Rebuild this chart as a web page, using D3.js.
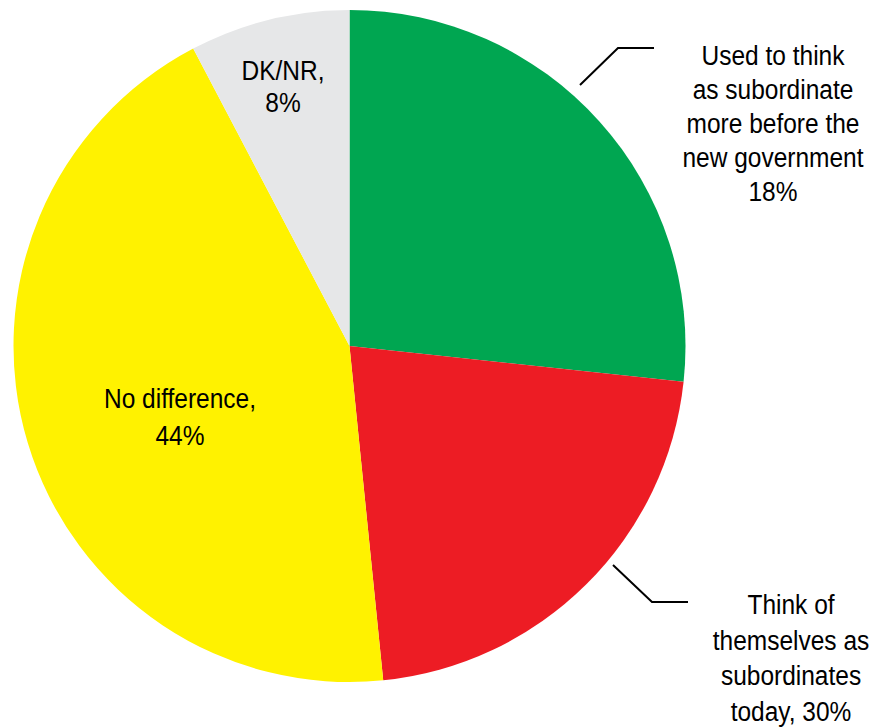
<!DOCTYPE html>
<meta charset="utf-8">
<title>Subordinates pie</title>
<style>
body { margin: 0; background: #fff; }
svg text {
  font-family: "Liberation Sans", Arial, sans-serif;
  font-size: 28px;
  fill: #000;
  text-anchor: middle;
}
</style>
<body>
<script src="https://cdn.jsdelivr.net/npm/d3@7"></script>
<script>
'use strict';

// slices as drawn in the chart (clockwise from 12 o'clock)
const categories = ["Used to think as subordinate more before the new government", "Think of themselves as subordinates today", "No difference", "DK/NR"];
const sliceValues = [26.7, 21.7, 43.9, 7.7];
const colors = ["#00a651", "#ed1c24", "#fff200", "#e6e7e8"];
// label text as printed
const labelLines = [
  ["Used to think", "as subordinate", "more before the", "new government", "18%"],
  ["Think of", "themselves as", "subordinates", "today, 30%"],
  ["No difference,", "44%"],
  ["DK/NR,", "8%"]
];

const width = 875, height = 728,
      cx = 349.5, cy = 346, radius = 336,
      squeeze = 0.875; // the original uses a condensed face

const svg = d3.select("body").append("svg")
    .attr("width", width)
    .attr("height", height);

const pie = d3.pie().sort(null).value(d => d);
const arc = d3.arc().innerRadius(0).outerRadius(radius);
const arcs = pie(sliceValues);

const g = svg.append("g").attr("transform", `translate(${cx},${cy})`);

g.selectAll("path")
    .data(arcs)
  .enter().append("path")
    .attr("d", arc)
    .attr("fill", (d, i) => colors[i]);

// label blocks: centre x, first baseline, line step
const labelPos = [
  {x: 773, y: 65, step: 34},
  {x: 791, y: 614, step: 35.5},
  {x: 180, y: 408, step: 37},
  {x: 283, y: 80, step: 32}
];

labelLines.forEach((lines, i) => {
  const p = labelPos[i];
  svg.append("g")
      .selectAll("text")
      .data(lines)
    .enter().append("text")
      .attr("transform", (l, j) => `translate(${p.x},${p.y + j * p.step}) scale(${squeeze},1)`)
      .text(l => l);
});

// leader lines for the two outside labels
const line = d3.line();
const leaders = [
  [[580, 85], [618, 48], [654, 48]],
  [[613, 565], [652, 602], [688, 602]]
];
svg.selectAll(".leader")
    .data(leaders)
  .enter().append("path")
    .attr("class", "leader")
    .attr("d", line)
    .attr("fill", "none")
    .attr("stroke", "#000")
    .attr("stroke-width", 2);
</script>
</body>
